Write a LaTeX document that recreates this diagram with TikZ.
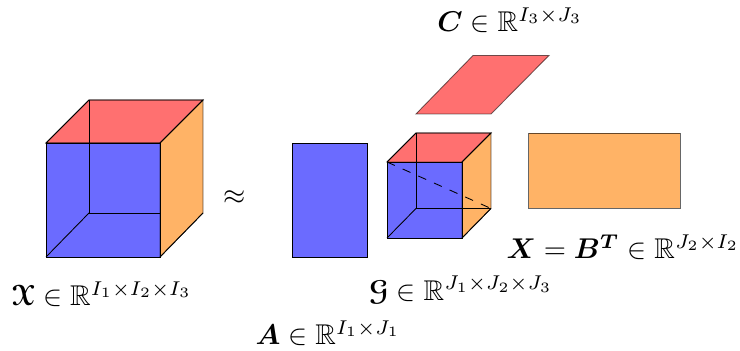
\documentclass[tikz,border=0pt]{standalone}
\usepackage{amsmath,amssymb,bm}
\usepackage[mathcal]{euscript}
\begin{document}
\begin{tikzpicture}[x=0.35pt, y=-0.35pt, line width=0.3pt,
    blueface/.style={fill=blue!58},
    redface/.style={draw, opacity=0.56, fill=red},
    orangeface/.style={draw, opacity=0.6, fill=orange},
    edge/.style={draw=black}]
  \useasboundingbox (0,0) rectangle (740,351);

  % big tensor
  \draw[blueface] (46,143) rectangle (160,257);
  \path[redface] (46,143) -- (89,100) -- (203,100) -- (160,143) -- cycle;
  \path[orangeface] (160,143) -- (203,100) -- (203,213) -- (160,257) -- cycle;
  \draw[edge] (46,143) -- (89,100) -- (203,100) -- (160,143) -- cycle;
  \draw[edge] (46,143) rectangle (160,257);
  \draw[edge] (89,100) -- (89,213) -- (160,213);
  \draw[edge] (46,257) -- (89,213);
  \draw[edge] (160,257) -- (203,213);
  \node (approx) at (235,198) {$\approx$};

  % factor A
  \draw[blueface] (292,143) rectangle (367.5,257);
  \draw[edge] (292,143) rectangle (367.5,257);

  % factor C
  \path[redface] (416,114) -- (473,55.5) -- (549,55.5) -- (491,114) -- cycle;

  % core
  \draw[blueface] (387,162) rectangle (462,238);
  \path[redface] (387,162) -- (416,133) -- (491,133) -- (462,162) -- cycle;
  \path[orangeface] (462,162) -- (491,133) -- (491,208.5) -- (462,238) -- cycle;
  \draw[edge] (387,162) -- (416,133) -- (491,133) -- (462,162);
  \draw[edge] (387,162) rectangle (462,238);
  \draw[edge] (416,133) -- (416,208.5) -- (491,208.5);
  \draw[edge] (387,238) -- (416,208.5);
  \draw[edge] (462,238) -- (491,208.5);
  \draw[edge, dashed] (387,162) -- (491,208.5);

  % factor X
  \path[orangeface] (528.5,133) rectangle (680,208.5);

  % labels
  \node (lblx) at (102,294) {$\boldsymbol{\mathcal{X}} \in \mathbb{R}^{I_1 \times I_2 \times I_3}$};
  \node (lblc) at (510,20) {$\boldsymbol{C} \in \mathbb{R}^{I_3 \times J_3}$};
  \node (lblg) at (461,290) {$\boldsymbol{\mathcal{G}} \in \mathbb{R}^{J_1 \times J_2 \times J_3}$};
  \node (lbla) at (328,333) {$\boldsymbol{A} \in \mathbb{R}^{I_1 \times J_1}$};
  \node (lblb) at (623,247) {$\boldsymbol{X} = \boldsymbol{B^T} \in \mathbb{R}^{J_2 \times I_2}$};
\end{tikzpicture}
\end{document}
